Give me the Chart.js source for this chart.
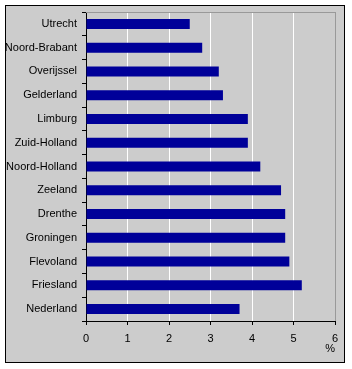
<!DOCTYPE html>
<html><head><meta charset="utf-8">
<script src="https://cdn.jsdelivr.net/npm/chart.js@4"></script>
<style>html,body{margin:0;padding:0;background:#fff}canvas{display:block}</style>
</head><body>
<div style="width:352px;height:369px"><canvas id="c" width="352" height="369"></canvas></div>
<script>
const categories = ["Utrecht","Noord-Brabant","Overijssel","Gelderland","Limburg","Zuid-Holland","Noord-Holland","Zeeland","Drenthe","Groningen","Flevoland","Friesland","Nederland"];
const values = [2.5,2.8,3.2,3.3,3.9,3.9,4.2,4.7,4.8,4.8,4.9,5.2,3.7];
const xTicks = [0,1,2,3,4,5,6];
const axisUnit = "%";

const frame = {
  id:'frame',
  beforeDraw(chart){
    const ctx = chart.ctx;
    ctx.save();
    ctx.fillStyle = '#fff';
    ctx.fillRect(0,0,chart.width,chart.height);
    ctx.fillStyle = '#cccccc';
    ctx.fillRect(5,5,340,358);
    ctx.strokeStyle = '#000';
    ctx.lineWidth = 1;
    ctx.strokeRect(5.5,5.5,339,357);
    ctx.restore();
  },
  beforeDatasetsDraw(chart){
    const a = chart.chartArea, ctx = chart.ctx;
    ctx.save();
    ctx.strokeStyle = '#999999';
    ctx.lineWidth = 1;
    ctx.beginPath();
    ctx.moveTo(a.left, Math.round(a.top)+0.5);
    ctx.lineTo(a.right+1, Math.round(a.top)+0.5);
    ctx.stroke();
    ctx.restore();
  }
};

Chart.defaults.font.family = "'Liberation Sans', Arial, sans-serif";
Chart.defaults.font.size = 11;
Chart.defaults.color = '#000';

new Chart(document.getElementById('c'), {
  type:'bar',
  data:{labels:categories, datasets:[{data:values, backgroundColor:'#000099', barPercentage:0.42, categoryPercentage:1}]},
  options:{
    indexAxis:'y', responsive:false, animation:false,
    layout:{padding:{left:0,top:12,right:17,bottom:13}},
    plugins:{legend:{display:false}, tooltip:{enabled:false}},
    scales:{
      x:{
        min:0, max:6,
        afterBuildTicks(s){ s.ticks = xTicks.map(v=>({value:v})); },
        afterFit(s){ s.height = 35; },
        ticks:{padding:7, maxRotation:0},
        grid:{
          color(ctx){ const v = ctx.tick ? ctx.tick.value : 0; return v===0 ? '#000' : (v===6 ? '#999999' : '#ffffff'); },
          tickColor:'#000', tickLength:4, lineWidth:1
        },
        border:{color:'#000'},
        title:{display:true, text:axisUnit, align:'end', padding:{top:0,bottom:0}}
      },
      y:{
        afterFit(s){ s.width = 86; },
        ticks:{padding:5},
        grid:{drawOnChartArea:false, tickLength:4, tickColor:'#000', color:'#000', offset:true},
        border:{color:'#000'}
      }
    }
  },
  plugins:[frame]
});
</script>
</body></html>
